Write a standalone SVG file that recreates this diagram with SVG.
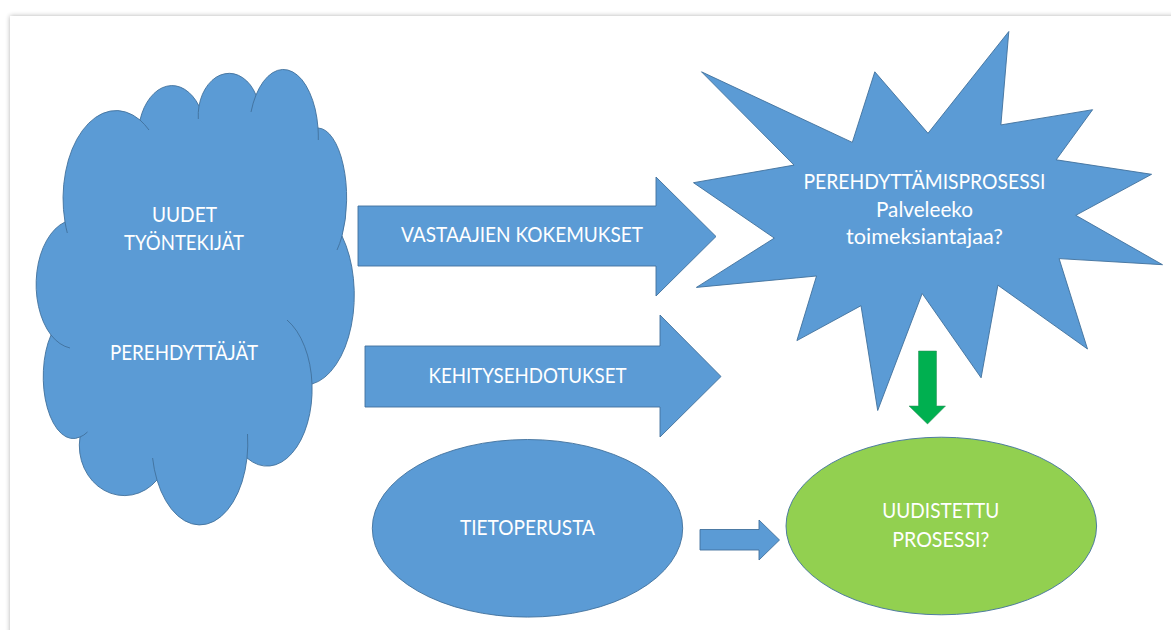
<svg xmlns="http://www.w3.org/2000/svg" width="1171" height="630" viewBox="0 0 1171 630">
  <defs>
    <filter id="shadow" x="-5%" y="-5%" width="110%" height="110%">
      <feGaussianBlur stdDeviation="2.5"/>
    </filter>
  </defs>
  <style>
    .blue { fill: #5B9BD5; stroke: #41719C; stroke-width: 0.9; }
    .green { fill: #92D050; stroke: #41719C; stroke-width: 0.9; }
    .garrow { fill: #00B050; stroke: #2E8B57; stroke-width: 0.5; }
    .seam { fill: none; stroke: #41719C; stroke-width: 0.9; }
    .t { font-family: Lato, "Open Sans", "Liberation Sans", sans-serif; font-size: 22px; fill: #FFFFFF; text-anchor: middle; }
  </style>
  <rect x="0" y="0" width="1171" height="630" fill="#FFFFFF"/>
  <rect x="10" y="16" width="1200" height="700" fill="#000000" opacity="0.3" filter="url(#shadow)"/>
  <rect x="10" y="16" width="1200" height="700" fill="#FFFFFF"/>

  <g id="cloud">
    <path class="blue" d="M65,222 A53,88 0 0 1 140,120 A34,52 0 0 1 199,106 A31,43 0 0 1 256,95 A35,68 0 0 1 318,128 A29,70 0 0 1 342,236 A50,90 0 0 1 312,384 A45,77 0 0 1 247,458 A48,82 0 0 1 157,480 A45,50 0 0 1 80,437 A30,62 0 0 1 51,335 A40,65 0 0 1 65,222 Z"/>
    <path class="seam" d="M140,120 A53,88 0 0 1 149,130"/>
    <path class="seam" d="M199,106 A31,43 0 0 0 198.3,119"/>
    <path class="seam" d="M256,95 A35,68 0 0 0 251,112"/>
    <path class="seam" d="M318,128 A35,68 0 0 1 318.3,140"/>
    <path class="seam" d="M342,236 A29,70 0 0 1 337,250"/>
    <path class="seam" d="M312,384 A45,77 0 0 0 287,320"/>
    <path class="seam" d="M247,458 A48,82 0 0 0 247.5,434"/>
    <path class="seam" d="M157,480 A48,82 0 0 1 152.6,458"/>
    <path class="seam" d="M80,437 A30,62 0 0 0 87.5,432"/>
    <path class="seam" d="M51,335 A40,65 0 0 0 70,348"/>
    <path class="seam" d="M65,222 A53,88 0 0 0 67.3,233"/>
    <text class="t" x="184.5" y="222" textLength="65" lengthAdjust="spacingAndGlyphs">UUDET</text>
    <text class="t" x="184" y="250" textLength="120" lengthAdjust="spacingAndGlyphs">TYÖNTEKIJÄT</text>
    <text class="t" x="184" y="360" textLength="148" lengthAdjust="spacingAndGlyphs">PEREHDYTTÄJÄT</text>
  </g>

  <g id="star">
    <polygon class="blue" points="928,133.3 1008.8,31.5 1000.9,124.9 1092.6,109.7 1056.2,159.8 1151.6,174.3 1075.8,215.3 1162.5,264.7 1059.1,258.6 1087.5,349 997.9,285.2 981.1,377.8 922.2,293.5 877.7,410.5 861,305.7 796.9,340.6 816.5,276 696.4,287.4 774.3,238.1 693.5,182.7 794,165.1 701.5,71.8 852.3,142.4 874.8,71.8"/>
    <text class="t" x="924.5" y="189" textLength="242" lengthAdjust="spacingAndGlyphs">PEREHDYTTÄMISPROSESSI</text>
    <text class="t" x="924.5" y="217" textLength="97" lengthAdjust="spacingAndGlyphs">Palveleeko</text>
    <text class="t" x="924.5" y="244" textLength="157" lengthAdjust="spacingAndGlyphs">toimeksiantajaa?</text>
  </g>

  <g id="tietoperusta">
    <ellipse class="blue" cx="527.5" cy="528.3" rx="155.2" ry="88.8"/>
    <text class="t" x="527.5" y="535" textLength="135" lengthAdjust="spacingAndGlyphs">TIETOPERUSTA</text>
  </g>

  <g id="uudistettu">
    <ellipse class="green" cx="941.3" cy="526" rx="155.3" ry="88.8"/>
    <text class="t" x="940.8" y="518.3" textLength="117" lengthAdjust="spacingAndGlyphs">UUDISTETTU</text>
    <text class="t" x="940.8" y="546.7" textLength="97" lengthAdjust="spacingAndGlyphs">PROSESSI?</text>
  </g>

  <g id="connectors">
    <g id="arrow-kokemukset">
      <path class="blue" d="M358,206 L656,206 L656,177 L716,236.5 L656,296 L656,266 L358,266 Z"/>
      <text class="t" x="522" y="242" textLength="242" lengthAdjust="spacingAndGlyphs">VASTAAJIEN KOKEMUKSET</text>
    </g>
    <g id="arrow-kehitysehdotukset">
      <path class="blue" d="M365,346 L660,346 L660,315 L721,376.5 L660,437 L660,407 L365,407 Z"/>
      <text class="t" x="527.5" y="383.3" textLength="198" lengthAdjust="spacingAndGlyphs">KEHITYSEHDOTUKSET</text>
    </g>
    <path id="arrow-tieto" class="blue" d="M700,529.5 L759,529.5 L759,520 L779.5,540 L759,560 L759,550 L700,550 Z"/>
    <path id="arrow-down" class="garrow" d="M918.5,351 L936.5,351 L936.5,406 L945.5,406 L927.5,424 L909,406 L918.5,406 Z"/>
  </g>
</svg>
